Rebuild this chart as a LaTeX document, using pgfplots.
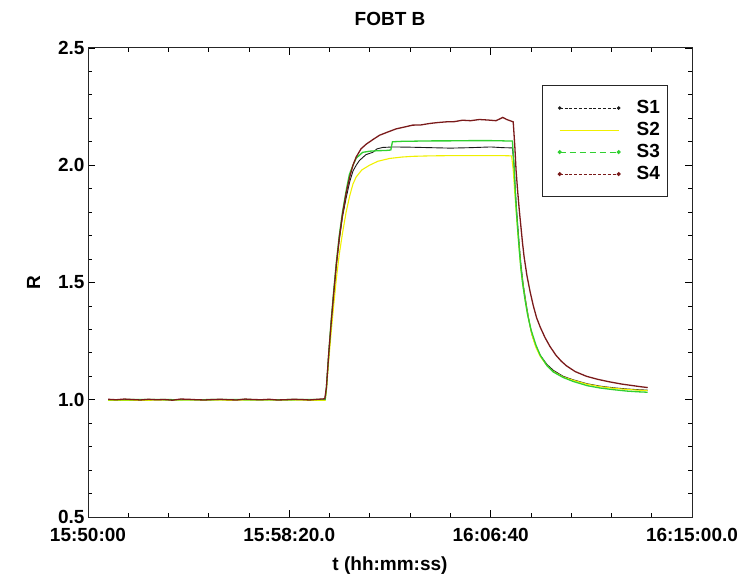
\documentclass[border=0pt]{standalone}
\usepackage{fontspec}
\setmainfont{Liberation Sans}
\usepackage{pgfplots}
\pgfplotsset{compat=1.18}
\definecolor{sone}{HTML}{1A1A1A}
\definecolor{stwo}{HTML}{F0F000}
\definecolor{sthree}{HTML}{30D030}
\definecolor{sfour}{HTML}{7A1A1A}
\begin{document}
\begin{tikzpicture}[x=1pt,y=1pt]
\useasboundingbox (-88,-66) rectangle (655,517);
\begin{axis}[
  at={(0,0)}, anchor=south west, scale only axis, width=604pt, height=469pt,
  xmin=0, xmax=1500, ymin=0.5, ymax=2.5,
  font=\fontsize{19}{22}\selectfont\bfseries,
  xtick={0,500,1000,1500},
  xticklabels={15:50:00,15:58:20.0,16:06:40,16:15:00.0},
  xticklabel style={yshift=-7.5pt},
  minor x tick num=4,
  ytick={0.5,1.0,1.5,2.0,2.5}, minor y tick num=4,
  yticklabel style={/pgf/number format/.cd,fixed,fixed zerofill,precision=1,assume math mode=true},
  major tick length=7pt, minor tick length=4pt,
  tick style={black, line width=0.8pt},
  axis line style={line width=1pt, black!85},
  title={FOBT B},
  title style={at={(axis description cs:0.5,1.05)}, anchor=center},
  xlabel={t (hh:mm:ss)},
  xlabel style={at={(axis description cs:0.5,-0.1045)}, anchor=center},
  ylabel={R},
  ylabel style={at={(axis description cs:-0.09,0.5)}, anchor=center},
  legend style={at={(axis description cs:0.752,0.921)}, anchor=north west,
    draw=black!85, line width=1pt, inner xsep=2pt, inner ysep=11.5pt,
    font=\fontsize{19}{22}\selectfont\bfseries,
    nodes={text height=14pt, text depth=4pt, inner ysep=2pt, inner xsep=6pt},
    /tikz/every odd column/.append style={column sep=10pt}},
  legend cell align=left,
]
% S1
\addplot[sone, line width=0.9pt,
  legend image code/.code={\path[draw=none,fill=none] (0pt,-1pt) rectangle (15pt,1pt);
    \draw[sone, line width=0.8pt, dash pattern=on 3pt off 1.8pt] (15pt,0pt) -- (74pt,0pt);
    \fill[sone] (15pt,0pt) circle (1.2pt); \fill[sone] (74pt,0pt) circle (1.3pt);}]
coordinates {
(50,1.001)(150,1.000)(250,1.001)(350,1.000)(450,1.001)(550,1.000)(589,1.002)
(592,1.05)(598,1.20)(604,1.33)(610,1.45)(617,1.58)(624,1.68)(632,1.78)(641,1.86)
(650,1.93)(658,1.975)(666,2.00)(674,2.02)(690,2.045)(707,2.055)(718,2.07)(732,2.076)
(760,2.078)(800,2.077)(850,2.075)(900,2.073)(950,2.075)(1000,2.078)(1030,2.075)(1054,2.074)
(1058,2.00)(1061,1.90)(1064,1.82)(1067,1.75)(1071,1.66)(1075,1.58)(1081,1.49)(1089,1.40)
(1096,1.33)(1102,1.28)(1112,1.23)(1123,1.19)(1140,1.15)(1156,1.125)(1180,1.10)(1205,1.085)
(1240,1.068)(1272,1.058)(1305,1.051)(1338,1.046)(1365,1.043)(1390,1.041)
};
\addlegendentry{S1}
% S2
\addplot[stwo, line width=1.1pt,
  legend image code/.code={\path[draw=none,fill=none] (0pt,-1pt) rectangle (15pt,1pt);
    \draw[stwo, line width=1pt] (15pt,0pt) -- (74pt,0pt);}]
coordinates {
(50,0.998)(150,0.998)(250,0.999)(350,0.998)(450,0.999)(550,0.998)(589,0.998)
(592,1.04)(598,1.17)(604,1.29)(610,1.40)(617,1.52)(624,1.62)(632,1.71)(641,1.80)
(650,1.87)(658,1.92)(666,1.95)(680,1.98)(699,2.00)(720,2.017)(749,2.029)(780,2.035)
(806,2.038)(850,2.040)(900,2.041)(950,2.041)(1000,2.041)(1030,2.041)(1052,2.040)
(1056,1.98)(1060,1.88)(1064,1.79)(1067,1.72)(1071,1.64)(1075,1.56)(1081,1.48)(1089,1.39)
(1096,1.33)(1102,1.28)(1112,1.225)(1123,1.185)(1140,1.145)(1156,1.12)(1180,1.097)(1205,1.083)
(1240,1.066)(1272,1.056)(1305,1.049)(1338,1.044)(1365,1.041)(1390,1.039)
};
\addlegendentry{S2}
% S3
\addplot[sthree, line width=1.3pt,
  legend image code/.code={\path[draw=none,fill=none] (0pt,-1pt) rectangle (15pt,1pt);
    \draw[sthree, line width=1pt, dash pattern=on 6pt off 4pt] (15pt,0pt) -- (74pt,0pt);
    \fill[sthree] (15pt,0pt) circle (1.3pt); \fill[sthree] (74pt,0pt) circle (1.3pt);}]
coordinates {
(50,1.000)(150,1.001)(250,1.000)(350,1.001)(450,1.000)(550,1.001)(589,1.001)
(592,1.05)(598,1.20)(604,1.34)(610,1.46)(617,1.59)(624,1.70)(632,1.80)(641,1.89)
(649,1.96)(658,2.00)(666,2.03)(682,2.055)(700,2.060)(720,2.062)(740,2.063)(752,2.065)
(756,2.100)(780,2.102)(820,2.103)(860,2.104)(900,2.104)(950,2.105)(1000,2.105)(1030,2.104)(1054,2.103)
(1058,2.00)(1061,1.89)(1064,1.80)(1067,1.73)(1071,1.64)(1075,1.56)(1079,1.50)(1085,1.43)
(1092,1.36)(1100,1.30)(1112,1.235)(1123,1.19)(1140,1.145)(1156,1.118)(1180,1.095)(1205,1.078)
(1240,1.060)(1272,1.050)(1305,1.043)(1338,1.037)(1365,1.034)(1390,1.032)
};
\addlegendentry{S3}
% S4
\addplot[sfour, line width=1.3pt,
  legend image code/.code={\path[draw=none,fill=none] (0pt,-1pt) rectangle (15pt,1pt);
    \draw[sfour, line width=0.8pt, dash pattern=on 3pt off 1.8pt] (15pt,0pt) -- (74pt,0pt);
    \fill[sfour] (15pt,0pt) circle (1.3pt); \fill[sfour] (74pt,0pt) circle (1.3pt);}]
coordinates {
(50,1.002)(70,1.000)(90,1.003)(110,1.001)(130,0.999)(150,1.002)(170,1.000)(190,1.001)
(210,0.998)(230,1.003)(250,1.002)(270,1.000)(290,0.999)(310,1.001)(330,1.002)(350,1.000)
(370,0.999)(390,1.003)(410,1.001)(430,1.000)(450,1.002)(470,0.999)(490,1.000)(510,1.002)
(530,1.001)(550,0.999)(570,1.002)(588,1.004)
(592,1.05)(598,1.20)(604,1.33)(610,1.45)(617,1.58)(624,1.69)(632,1.79)(641,1.88)
(650,1.95)(658,2.00)(666,2.035)(678,2.07)(691,2.09)(708,2.11)(724,2.128)(745,2.142)
(765,2.155)(786,2.163)(806,2.171)(827,2.172)(848,2.178)(868,2.182)(889,2.185)(910,2.186)
(930,2.192)(950,2.190)(972,2.195)(992,2.193)(1013,2.190)(1022,2.197)(1030,2.204)(1040,2.195)
(1048,2.190)(1056,2.185)
(1060,2.08)(1063,1.98)(1067,1.89)(1071,1.81)(1075,1.74)(1079,1.67)(1083,1.61)(1090,1.53)
(1098,1.46)(1106,1.40)(1114,1.35)(1123,1.31)(1135,1.265)(1147,1.228)(1162,1.19)(1175,1.165)
(1188,1.145)(1210,1.12)(1238,1.100)(1266,1.087)(1296,1.076)(1325,1.067)(1354,1.060)(1375,1.055)(1390,1.052)
};
\addlegendentry{S4}
\end{axis}
\end{tikzpicture}
\end{document}
